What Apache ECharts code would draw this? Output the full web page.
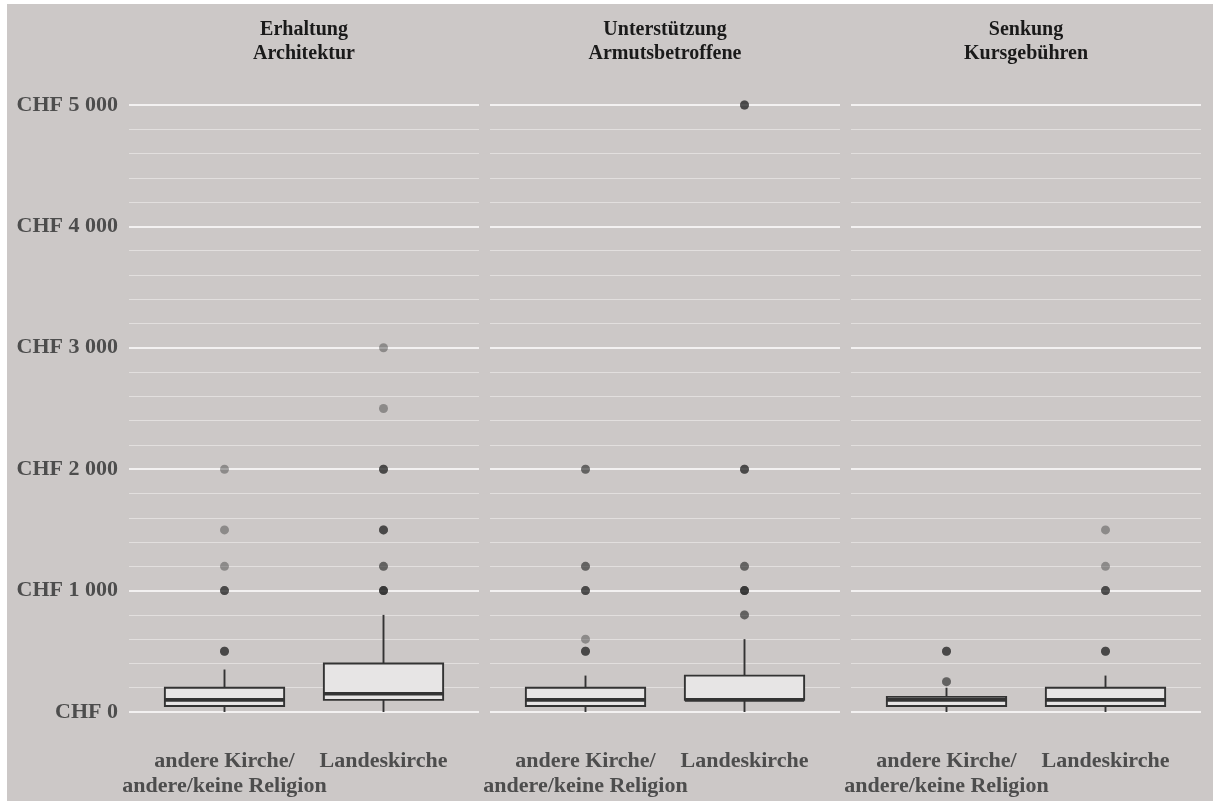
<!DOCTYPE html>
<html>
<head>
<meta charset="utf-8">
<script src="https://cdn.jsdelivr.net/npm/echarts@6/dist/echarts.min.js"></script>
<style>
  html, body { margin: 0; padding: 0; background: #fff; }
  #chart { width: 1213px; height: 801px; }
</style>
</head>
<body>
<div id="chart"></div>
<script>
// facets and groups
const panels = ["Erhaltung\nArchitektur", "Unterstützung\nArmutsbetroffene", "Senkung\nKursgebühren"];
const groups = ["andere Kirche/\nandere/keine Religion", "Landeskirche"];

// box stats per group: [lower whisker, Q1, median, Q3, upper whisker]
const statsArchitektur = [[0, 50, 100, 200, 350], [0, 100, 150, 400, 800]];
const statsArmut = [[0, 50, 100, 200, 300], [0, 100, 100, 300, 600]];
const statsKurs = [[0, 50, 100, 125, 200], [0, 50, 100, 200, 300]];

// outliers (repeated values overlap and look darker)
const outliersArchitektur = [
    [500, 500, 500, 1000, 1000, 1000, 1200, 1500, 2000],
    [1000, 1000, 1000, 1000, 1200, 1200, 1500, 1500, 1500, 2000, 2000, 2000, 2500, 3000],
];
const outliersArmut = [
    [500, 500, 500, 600, 1000, 1000, 1000, 1200, 1200, 2000, 2000],
    [800, 800, 1000, 1000, 1000, 1000, 1200, 1200, 2000, 2000, 2000, 5000, 5000, 5000],
];
const outliersKurs = [
    [250, 250, 500, 500, 500],
    [500, 500, 500, 1000, 1000, 1000, 1200, 1500],
];

const yMax = 5000;
const yStep = 1000;

const allStats = [statsArchitektur, statsArmut, statsKurs];
const allOutliers = [outliersArchitektur, outliersArmut, outliersKurs];

const serif = '"Liberation Serif", "Times New Roman", serif';
const bgLeft = [129, 490, 851];
const gridTop = 105, gridBottom = 89;

function chf(v) {
    return "CHF " + String(v).replace(/\B(?=(\d{3})+(?!\d))/g, " ");
}

function renderBox(params, api) {
    const x = api.value(0);
    const lo = api.coord([x, api.value(1)]);
    const q1 = api.coord([x, api.value(2)]);
    const med = api.coord([x, api.value(3)]);
    const q3 = api.coord([x, api.value(4)]);
    const hi = api.coord([x, api.value(5)]);
    const w = api.size([1, 0])[0] * 0.75;
    const cx = lo[0];
    const stroke = "#333333";
    return {
        type: "group",
        children: [
            { type: "line", shape: { x1: cx, y1: lo[1], x2: cx, y2: q1[1] }, style: { stroke: stroke, lineWidth: 1.9 } },
            { type: "line", shape: { x1: cx, y1: q3[1], x2: cx, y2: hi[1] }, style: { stroke: stroke, lineWidth: 1.9 } },
            { type: "rect", shape: { x: cx - w / 2, y: q3[1], width: w, height: q1[1] - q3[1] },
              style: { fill: "#e7e5e5", stroke: stroke, lineWidth: 1.9 } },
            { type: "line", shape: { x1: cx - w / 2, y1: med[1], x2: cx + w / 2, y2: med[1] },
              style: { stroke: stroke, lineWidth: 3.6 } },
        ],
    };
}

const grid = [], xAxis = [], yAxis = [], series = [], graphic = [];

// background grids carry the gridlines
panels.forEach(function (p, i) {
    grid.push({ left: bgLeft[i], width: 350, top: gridTop, bottom: gridBottom });
    xAxis.push({ type: "value", gridIndex: i, show: false, min: 0, max: 1 });
    yAxis.push({
        type: "value", gridIndex: i, min: 0, max: yMax, interval: yStep,
        axisLine: { show: false }, axisTick: { show: false },
        axisLabel: {
            show: i === 0, margin: 11, formatter: chf,
            color: "#4d4d4d", fontFamily: serif, fontWeight: "bold", fontSize: 22,
        },
        splitLine: { show: true, lineStyle: { color: "#f3f1f1", width: 2 } },
        minorTick: { show: false, splitNumber: 5 },
        minorSplitLine: { show: true, lineStyle: { color: "#e2dfde", width: 1 } },
    });
});

// data grids with the discrete axis (ggplot-like 0.6 padding)
panels.forEach(function (p, i) {
    const gi = i + 3;
    grid.push({ left: bgLeft[i] + 16, width: 318, top: gridTop, bottom: gridBottom });
    xAxis.push({
        type: "category", gridIndex: gi, data: groups,
        axisLine: { show: false }, axisTick: { show: false },
        axisLabel: {
            interval: 0, margin: 37, lineHeight: 25,
            color: "#4d4d4d", fontFamily: serif, fontWeight: "bold", fontSize: 22,
        },
    });
    yAxis.push({ type: "value", gridIndex: gi, min: 0, max: yMax, show: false, splitLine: { show: false } });

    series.push({
        type: "custom", xAxisIndex: gi, yAxisIndex: gi,
        renderItem: renderBox,
        encode: { x: 0, y: [1, 2, 3, 4, 5] },
        data: allStats[i].map(function (s, k) { return [k].concat(s); }),
        clip: false, z: 2,
    });

    const pts = [];
    allOutliers[i].forEach(function (vals, k) {
        vals.forEach(function (v) { pts.push([k, v]); });
    });
    series.push({
        type: "scatter", xAxisIndex: gi, yAxisIndex: gi,
        data: pts, symbolSize: 9, clip: false, z: 3,
        itemStyle: { color: "rgba(28,28,28,0.45)" },
        emphasis: { disabled: true },
    });

    graphic.push({
        type: "text", x: bgLeft[i] + 175, y: 42, silent: true,
        style: {
            text: p, align: "center", verticalAlign: "middle", lineHeight: 23.5,
            fill: "#1a1a1a", font: "bold 20px " + serif,
        },
    });
});

// white margins at the top and left like the cropped original
graphic.push({ type: "rect", shape: { x: 0, y: 0, width: 7, height: 801 }, style: { fill: "#ffffff" }, silent: true });
graphic.push({ type: "rect", shape: { x: 0, y: 0, width: 1213, height: 4 }, style: { fill: "#ffffff" }, silent: true });

const myChart = echarts.init(document.querySelector("#chart"));
const option = {
    backgroundColor: "#ccc8c7",
    animation: false,
    grid: grid,
    xAxis: xAxis,
    yAxis: yAxis,
    series: series,
    graphic: graphic,
};
myChart.setOption(option);
window.addEventListener("resize", function () {
    myChart.resize();
});
</script>
</body>
</html>
